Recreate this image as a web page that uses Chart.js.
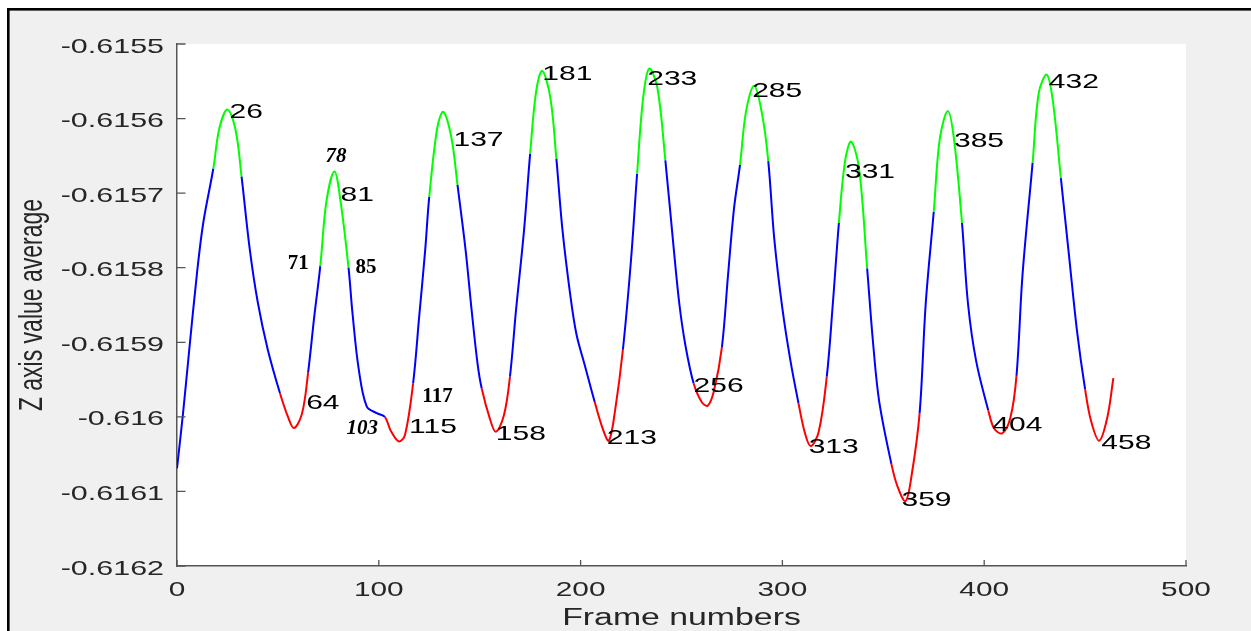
<!DOCTYPE html>
<html>
<head>
<meta charset="utf-8">
<script src="https://cdn.jsdelivr.net/npm/chart.js@4/dist/chart.umd.min.js"></script>
<style>
  html, body { margin: 0; padding: 0; background: #ffffff; }
  canvas { display: block; }
</style>
</head>
<body>
<canvas id="c" width="1251" height="631"></canvas>
<script>
// ---------------- data ----------------
const frames = [0,3,6,10,13,18,21,25,29,32,36,40,45,51,55,58,62,65,68,71,74,78,81,85,87,90,94,99,103,106,110,113,117,120,123,125,129,132,136,139,143,146,149,151,155,158,162,165,168,172,175,178,181,185,188,191,195,198,202,207,211,214,217,221,225,228,231,234,238,242,246,249,252,256,260,263,266,270,273,276,279,282,286,290,293,296,300,304,308,311,314,318,322,325,328,331,334,338,342,345,348,354,357,361,364,368,371,375,378,382,385,389,392,396,402,405,409,413,416,419,424,427,431,434,438,442,446,450,453,457,461,464];
const zValues = [-0.616069,-0.615995,-0.615912,-0.615805,-0.615740,-0.615667,-0.615613,-0.615588,-0.615615,-0.615678,-0.615774,-0.615846,-0.615910,-0.615968,-0.616000,-0.616015,-0.615995,-0.615940,-0.615866,-0.615798,-0.615712,-0.615671,-0.615710,-0.615800,-0.615862,-0.615935,-0.615986,-0.615995,-0.616000,-0.616019,-0.616033,-0.616024,-0.615955,-0.615866,-0.615776,-0.615705,-0.615612,-0.615591,-0.615626,-0.615689,-0.615776,-0.615857,-0.615930,-0.615962,-0.616002,-0.616020,-0.615998,-0.615946,-0.615857,-0.615749,-0.615647,-0.615563,-0.615536,-0.615572,-0.615654,-0.615749,-0.615839,-0.615890,-0.615930,-0.615980,-0.616016,-0.616032,-0.615993,-0.615909,-0.615789,-0.615674,-0.615572,-0.615533,-0.615558,-0.615656,-0.615770,-0.615850,-0.615905,-0.615955,-0.615980,-0.615985,-0.615966,-0.615907,-0.615812,-0.615721,-0.615662,-0.615590,-0.615556,-0.615595,-0.615657,-0.615762,-0.615855,-0.615925,-0.615982,-0.616020,-0.616039,-0.616020,-0.615946,-0.615848,-0.615740,-0.615658,-0.615631,-0.615667,-0.615801,-0.615903,-0.615980,-0.616063,-0.616093,-0.616113,-0.616079,-0.615995,-0.615849,-0.615725,-0.615627,-0.615590,-0.615627,-0.615740,-0.615849,-0.615925,-0.615991,-0.616016,-0.616022,-0.616001,-0.615945,-0.615809,-0.615659,-0.615566,-0.615541,-0.615576,-0.615680,-0.615783,-0.615885,-0.615963,-0.616006,-0.616032,-0.616001,-0.615948];

// frame ranges drawn green (around peaks) and red (around troughs)
const greenRanges = [[18,32],[71,85],[125,139],[175,188],[228,242],[279,293],[328,342],[375,389],[424,438]];
const redRanges   = [[51,65],[103,117],[151,165],[207,221],[256,270],[308,322],[354,368],[402,416],[450,464]];

// axis ticks
const xTickValues = [0,100,200,300,400,500];
const xTickLabels = ['0','100','200','300','400','500'];
const yTickValues = [-0.6155,-0.6156,-0.6157,-0.6158,-0.6159,-0.616,-0.6161,-0.6162];
const yTickLabels = ['-0.6155','-0.6156','-0.6157','-0.6158','-0.6159','-0.616','-0.6161','-0.6162'];

// frame-number annotations (placed at frame, value)
const labelFrames = [26,64,81,115,137,158,181,213,233,256,285,313,331,359,385,404,432,458];
const labelValues = [-0.615589,-0.615979,-0.615700,-0.616011,-0.615627,-0.616021,-0.615538,-0.616027,-0.615545,-0.615956,-0.615561,-0.616039,-0.615669,-0.616109,-0.615628,-0.616009,-0.615549,-0.616033];

// serif boundary marks (text, frame anchor, value anchor)
const markTexts  = ['71','78','85','103','117'];
const markFrames = [60.1,78.8,93.6,91.8,129.1];
const markValues = [-0.615793,-0.615649,-0.615798,-0.616013,-0.615971];

const xTitle = 'Frame numbers';
const yTitle = 'Z axis value average';

// ---------------- styles ----------------
const BLUE = '#0000ff', GREEN = '#00ff00', RED = '#ff0000';
const AXIS_COLOR = '#555555';
const SANS = '"Liberation Sans", Arial, sans-serif';
const SERIF = '"Liberation Serif", "Times New Roman", serif';
const STRETCH = 1.43;

function inRanges(x, ranges) {
  return ranges.some(r => x >= r[0] && x <= r[1]);
}
function segColor(ctx) {
  const mid = (ctx.p0.parsed.x + ctx.p1.parsed.x) / 2;
  if (inRanges(mid, greenRanges)) return GREEN;
  if (inRanges(mid, redRanges)) return RED;
  return BLUE;
}

function stretchedText(ctx, text, x, y, font, sx, align) {
  ctx.save();
  ctx.font = font;
  ctx.textAlign = align;
  ctx.textBaseline = 'alphabetic';
  ctx.translate(x, y);
  ctx.scale(sx, 1);
  ctx.fillText(text, 0, 0);
  ctx.restore();
}

const figurePlugin = {
  id: 'figure',
  beforeDraw(chart) {
    const { ctx, chartArea: a, width, height } = chart;
    ctx.save();
    ctx.fillStyle = '#ffffff';
    ctx.fillRect(0, 0, width, height);
    ctx.fillStyle = '#f0f0f0';
    ctx.fillRect(9, 10, width - 9, height - 10);
    ctx.fillStyle = '#000000';
    ctx.fillRect(7, 8, width - 7, 2.6);
    ctx.fillRect(7, 8, 2.6, height - 8);
    ctx.fillStyle = '#ffffff';
    ctx.fillRect(a.left, a.top, a.right - a.left, a.bottom - a.top);
    ctx.restore();
  },
  afterDraw(chart) {
    const { ctx, chartArea: a } = chart;
    const xs = chart.scales.x, ys = chart.scales.y;
    ctx.save();
    // inward tick marks
    ctx.strokeStyle = AXIS_COLOR;
    ctx.lineWidth = 1.3;
    ctx.beginPath();
    yTickValues.forEach(v => {
      const py = ys.getPixelForValue(v);
      ctx.moveTo(a.left, py); ctx.lineTo(a.left + 8.5, py);
    });
    xTickValues.forEach(v => {
      const px = xs.getPixelForValue(v);
      ctx.moveTo(px, a.bottom); ctx.lineTo(px, a.bottom - 6);
    });
    ctx.stroke();

    ctx.fillStyle = '#262626';
    // y tick labels
    yTickValues.forEach((v, i) => {
      const py = ys.getPixelForValue(v);
      stretchedText(ctx, yTickLabels[i], a.left - 13, py + 8.5, '21px ' + SANS, 1.45, 'right');
    });
    // x tick labels
    xTickValues.forEach((v, i) => {
      const px = xs.getPixelForValue(v);
      stretchedText(ctx, xTickLabels[i], px, a.bottom + 30, '21px ' + SANS, 1.42, 'center');
    });
    // x title
    stretchedText(ctx, xTitle, (a.left + a.right) / 2, 625, '23px ' + SANS, 1.47, 'center');
    // y title (rotated, thickness stretched)
    ctx.save();
    ctx.translate(41.5, (a.top + a.bottom) / 2);
    ctx.rotate(-Math.PI / 2);
    ctx.scale(1, 1.45);
    ctx.font = '23px ' + SANS;
    ctx.textAlign = 'center';
    ctx.textBaseline = 'alphabetic';
    ctx.fillText(yTitle, 0, 0);
    ctx.restore();

    // frame-number annotations
    ctx.fillStyle = '#000000';
    labelFrames.forEach((f, i) => {
      const px = xs.getPixelForValue(f);
      const py = ys.getPixelForValue(labelValues[i]);
      stretchedText(ctx, String(f), px, py + 7.5, '21px ' + SANS, STRETCH, 'left');
    });
    // serif boundary marks
    markTexts.forEach((t, i) => {
      const px = xs.getPixelForValue(markFrames[i]);
      const py = ys.getPixelForValue(markValues[i]);
      const italic = (t === '78' || t === '103') ? 'italic ' : '';
      stretchedText(ctx, t, px, py + 7, italic + 'bold 21px ' + SERIF, 1.0, 'center');
    });
    ctx.restore();
  }
};

new Chart(document.getElementById('c'), {
  type: 'line',
  data: {
    datasets: [{
      data: frames.map((f, i) => ({ x: f, y: zValues[i] })),
      borderColor: BLUE,
      borderWidth: 2,
      pointRadius: 0,
      fill: false,
      tension: 0.35,
      segment: { borderColor: segColor }
    }]
  },
  options: {
    responsive: false,
    devicePixelRatio: 1,
    animation: false,
    events: [],
    layout: { padding: { left: 177, top: 44, right: 65, bottom: 65 } },
    plugins: { legend: { display: false }, tooltip: { enabled: false } },
    scales: {
      x: {
        type: 'linear', min: 0, max: 500,
        ticks: { display: false, stepSize: 100 },
        grid: { display: true, drawOnChartArea: false, drawTicks: false },
        border: { display: true, color: AXIS_COLOR, width: 1.5 }
      },
      y: {
        type: 'linear', min: -0.6162, max: -0.6155,
        ticks: { display: false, stepSize: 0.0001 },
        grid: { display: true, drawOnChartArea: false, drawTicks: false },
        border: { display: true, color: AXIS_COLOR, width: 1.5 }
      }
    }
  },
  plugins: [figurePlugin]
});
</script>
</body>
</html>
